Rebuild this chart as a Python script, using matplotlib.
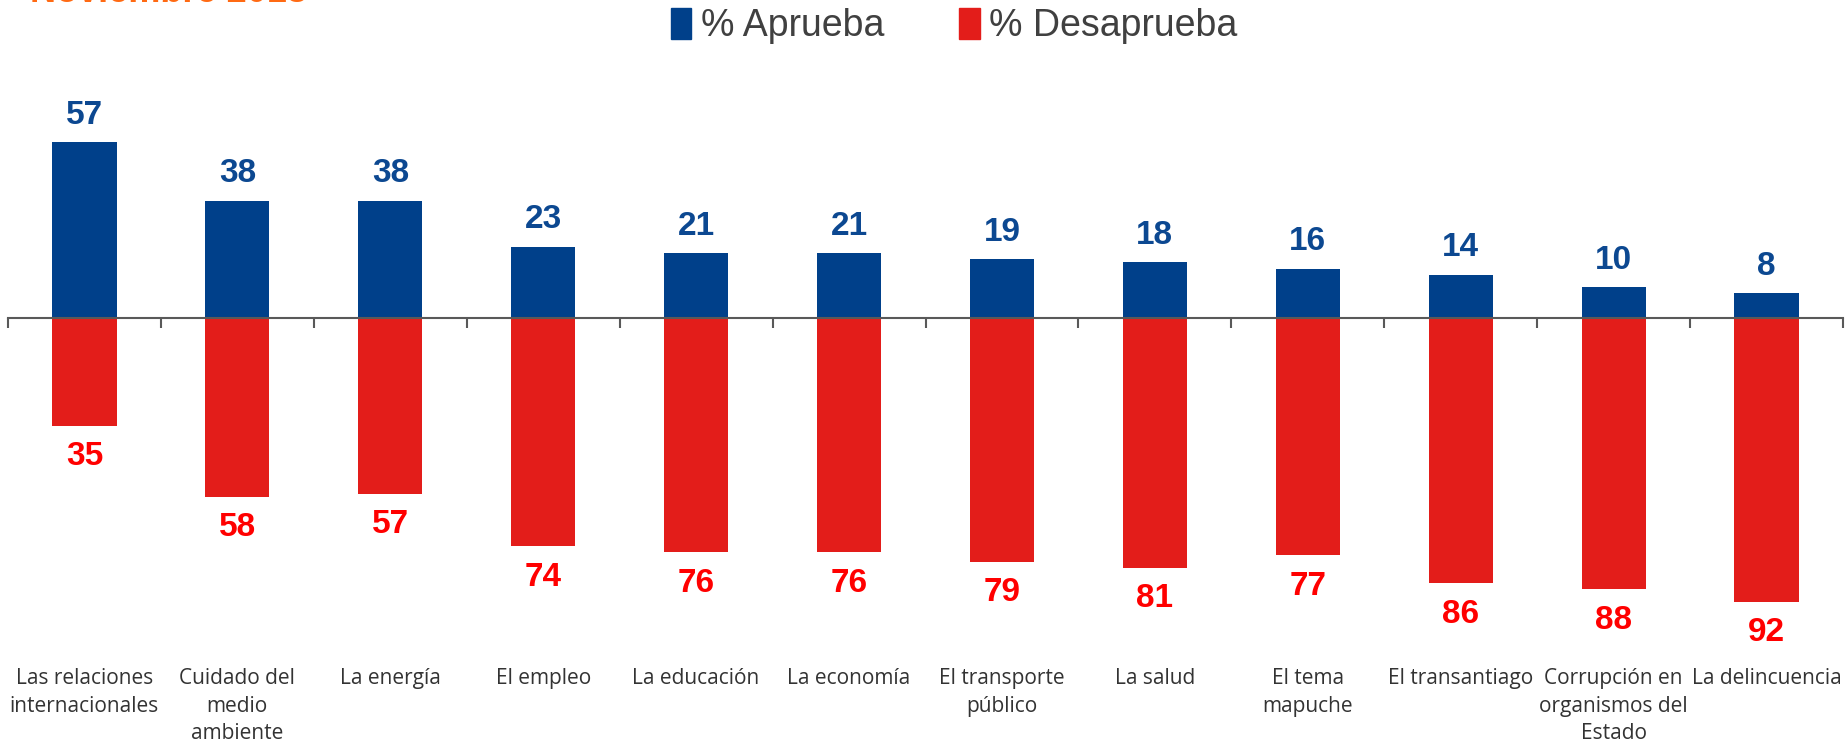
import numpy as np
import matplotlib.pyplot as plt
import matplotlib.transforms as mtransforms
from matplotlib.patches import Patch

# categories and values
categories = [
    "Las relaciones\ninternacionales",
    "Cuidado del\nmedio\nambiente",
    "La energía",
    "El empleo",
    "La educación",
    "La economía",
    "El transporte\npúblico",
    "La salud",
    "El tema\nmapuche",
    "El transantiago",
    "Corrupción en\norganismos del\nEstado",
    "La delincuencia",
]
aprueba = [57, 38, 38, 23, 21, 21, 19, 18, 16, 14, 10, 8]
desaprueba = [35, 58, 57, 74, 76, 76, 79, 81, 77, 86, 88, 92]

blue = '#00408A'
red = '#E31D1A'

fig = plt.figure(figsize=(18.45, 7.44), dpi=100)
ax = fig.add_axes([8 / 1845, 0.158, 1835 / 1845, 0.705])

x = np.arange(len(categories))
w = 0.42
ax.bar(x, aprueba, width=w, color=blue, zorder=2)
ax.bar(x, [-v for v in desaprueba], width=w, color=red, zorder=2)

ax.set_xlim(-0.5, len(categories) - 0.5)
ax.set_ylim(-100, 70)

# value labels
for i, (a, d) in enumerate(zip(aprueba, desaprueba)):
    ax.annotate(str(a), (i, a), xytext=(0, 27), textcoords='offset pixels',
                ha='center', va='center', fontsize=24, fontweight='bold',
                color='#0C4891', family='Liberation Sans')
    ax.annotate(str(d), (i, -d), xytext=(0, -31), textcoords='offset pixels',
                ha='center', va='center', fontsize=24, fontweight='bold',
                color='#FF0000', family='Liberation Sans')

# zero axis with ticks between categories
for s in ['top', 'right', 'left']:
    ax.spines[s].set_visible(False)
ax.spines['bottom'].set_position(('data', 0))
ax.spines['bottom'].set_color('#595959')
ax.spines['bottom'].set_linewidth(1.5)
ax.spines['bottom'].set_zorder(3)
ax.set_yticks([])
ax.set_xticks(np.arange(len(categories) + 1) - 0.5)
ax.set_xticklabels([])
ax.tick_params(axis='x', length=7, width=1.5, color='#595959', direction='out')

# category labels at the bottom
trans = mtransforms.blended_transform_factory(ax.transData, fig.transFigure)
for i, c in enumerate(categories):
    ax.text(i, 1 - 668 / 744, c, transform=trans, ha='center', va='top',
            fontsize=15, color='#333333', family='Open Sans', linespacing=1.42)

# legend
handles = [Patch(color=blue, label='% Aprueba'), Patch(color=red, label='% Desaprueba')]
fig.legend(handles=handles, loc='center', bbox_to_anchor=(0.517, 1 - 26 / 744), ncol=2,
           frameon=False, handlelength=0.55, handleheight=0.9,
           handletextpad=0.25, columnspacing=2.0, labelcolor='#404040',
           prop={'family': 'Liberation Sans', 'size': 27})

# cut-off title at the top left
fig.text(30 / 1845, 1 - 2 / 744, 'Noviembre 2018', ha='left', va='baseline',
         fontsize=26, fontweight='bold', color='#FF6A13', family='Liberation Sans')

fig.savefig('out.png', dpi=100)
